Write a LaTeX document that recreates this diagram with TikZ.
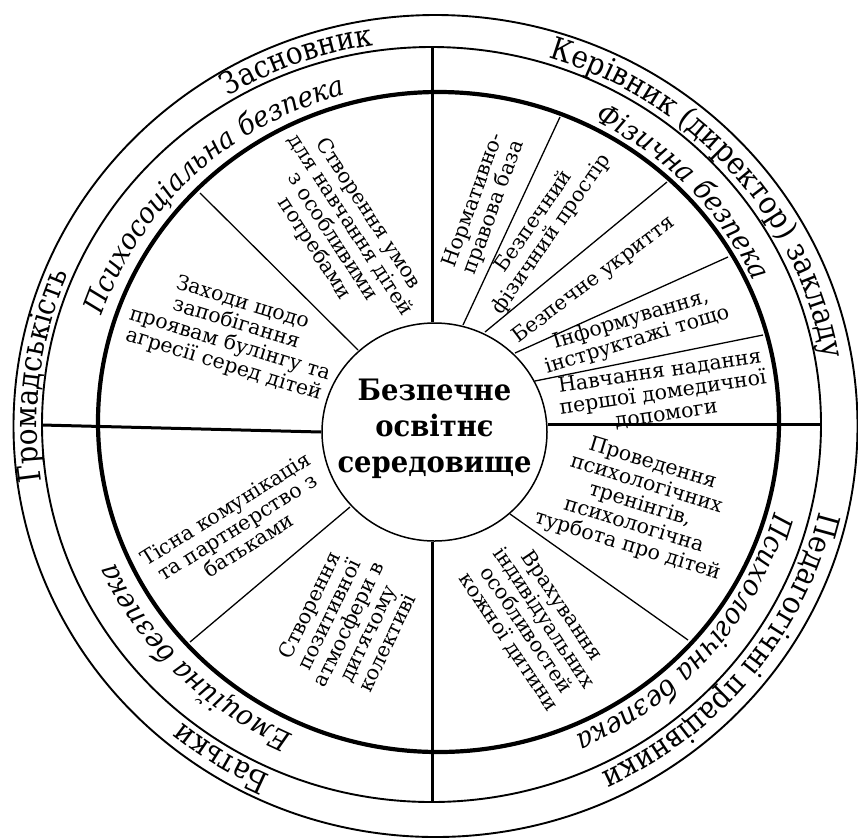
\documentclass[tikz,border=0pt]{standalone}
\usepackage{fontspec}
\setmainfont{DejaVu Serif}
\newfontfamily\ringfont[FakeStretch=0.9]{DejaVu Serif}
\newfontfamily\innerringfont[FakeStretch=0.93]{DejaVu Serif}
\usetikzlibrary{decorations.text,shapes.geometric,calc}
\newcommand\outerlabfont{\ringfont\fontsize{31}{31}\selectfont}
\newcommand\innerlabfont{\innerringfont\itshape\fontsize{28.5}{28.5}\selectfont}
\begin{document}
\begin{tikzpicture}[x=1pt,y=1pt,
  ring/.style={line width=1.9pt},
  thickring/.style={line width=4.2pt},
  divider/.style={line width=3pt},
  spoke/.style={line width=1.3pt},
  sect/.style={font=\fontsize{20.5}{21.5}\selectfont, align=center, inner sep=0pt},
  outerlab/.style={decorate, decoration={text along path, text align=center, text={|\outerlabfont|#1}}},
  innerlab/.style={decorate, decoration={text along path, text align=center, text={|\innerlabfont|#1}}},
]
\useasboundingbox (0,0) rectangle (858,-839);
% circles
\draw[ring] (435.5,-426) ellipse [x radius=422, y radius=411];
\draw[ring] (431.5,-424.5) ellipse [x radius=389.5, y radius=377.5];
\draw[thickring] (438.5,-422) ellipse [x radius=340.5, y radius=330];
\node[draw, ellipse, line width=1.5pt, minimum width=225pt, minimum height=218pt, inner sep=0pt] (hub) at (434.5,-432) {};
\node[font=\innerringfont\bfseries\fontsize{29.5}{36}\selectfont, align=center] (hubtext) at (434.5,-429) {Безпечне\\освітнє\\середовище};
% dividers
\coordinate (mTop) at (432.5,-47);
\coordinate (mBot) at (432.5,-802);
\coordinate (mLeft) at (42,-425);
\coordinate (mRight) at (821,-424);
\draw[divider] (mTop) -- (mTop |- hub.north);
\draw[divider] (mBot) -- (mBot |- hub.south);
\draw[divider] (mLeft) -- (hub.west);
\draw[divider] (mRight) -- (mRight -| hub.east);
% spokes
\coordinate (a1) at (463,-325); \coordinate (a2) at (560,-117);
\coordinate (b1) at (485,-332); \coordinate (b2) at (667,-182);
\coordinate (c1) at (515,-353); \coordinate (c2) at (728,-257);
\coordinate (d1) at (535,-381); \coordinate (d2) at (763,-335);
\coordinate (e1) at (510,-514); \coordinate (e2) at (688,-640);
\coordinate (f1) at (350,-507); \coordinate (f2) at (190,-642);
\coordinate (g1) at (358,-350); \coordinate (g2) at (200,-193);
\foreach \p in {a,b,c,d,e,f,g} \draw[spoke] (\p1) -- (\p2);
% ring label centres
\coordinate (cout) at (433,-425);
\coordinate (cin) at (435,-423.5);
% outer labels
\path[outerlab=Засновник] ($(cout)+(170.3:396 and 384)$) arc[start angle=170.3, end angle=50.3, x radius=396, y radius=384];
\path[outerlab={Керівник (директор) закладу}] ($(cout)+(101:396 and 384)$) arc[start angle=101, end angle=-19, x radius=396, y radius=384];
\path[outerlab=Громадськість] ($(cout)+(232.8:396 and 384)$) arc[start angle=232.8, end angle=112.8, x radius=396, y radius=384];
\path[outerlab=Батьки] ($(cout)+(297.7:396 and 384)$) arc[start angle=297.7, end angle=177.7, x radius=396, y radius=384];
\path[outerlab={Педагогічні працівники}] ($(cout)+(21.5:396 and 384)$) arc[start angle=21.5, end angle=-98.5, x radius=396, y radius=384];
% inner labels
\path[innerlab={Психосоціальна безпека}] ($(cin)+(193.6:351 and 340)$) arc[start angle=193.6, end angle=73.6, x radius=351, y radius=340];
\path[innerlab={Фізична безпека}] ($(cin)+(103.3:351 and 340)$) arc[start angle=103.3, end angle=-16.7, x radius=351, y radius=340];
\path[innerlab={Психологічна безпека}] ($(cin)+(19.7:351 and 340)$) arc[start angle=19.7, end angle=-100.3, x radius=351, y radius=340];
\path[innerlab={Емоційна безпека}] ($(cin)+(284.5:351 and 340)$) arc[start angle=284.5, end angle=164.5, x radius=351, y radius=340];
% sector texts
\node[sect, rotate=-57] (t1) at (341,-231) {Створення умов\\для навчання дітей\\з особливими\\потребами};
\node[sect, rotate=-17] (t2) at (233,-334) {Заходи щодо\\запобігання\\проявам булінгу та\\агресії серед дітей};
\node[sect, rotate=70] (t3) at (484,-204) {Нормативно-\\правова база};
\node[sect, rotate=55] (t4) at (543,-228) {Безпечний\\фізичний простір};
\node[sect, rotate=37] (t5) at (594,-280) {Безпечне укриття};
\node[sect, rotate=17] (t6) at (634,-330) {Інформування,\\інструктажі тощо};
\node[sect, rotate=8.5] (t7) at (663,-393) {Навчання надання\\першої домедичної\\допомоги};
\node[sect, rotate=-17] (t8) at (640,-505) {Проведення\\психологічних\\тренінгів,\\психологічна\\турбота про дітей};
\node[sect, rotate=-56] (t9) at (535,-624) {Врахування\\індивідуальних\\особливостей\\кожної дитини};
\node[sect, rotate=32] (t10) at (237,-527) {Тісна комунікація\\та партнерство з\\батьками};
\node[sect, rotate=64] (t11) at (348,-624) {Створення\\позитивної\\атмосфери в\\дитячому\\колективі};
\end{tikzpicture}
\end{document}
